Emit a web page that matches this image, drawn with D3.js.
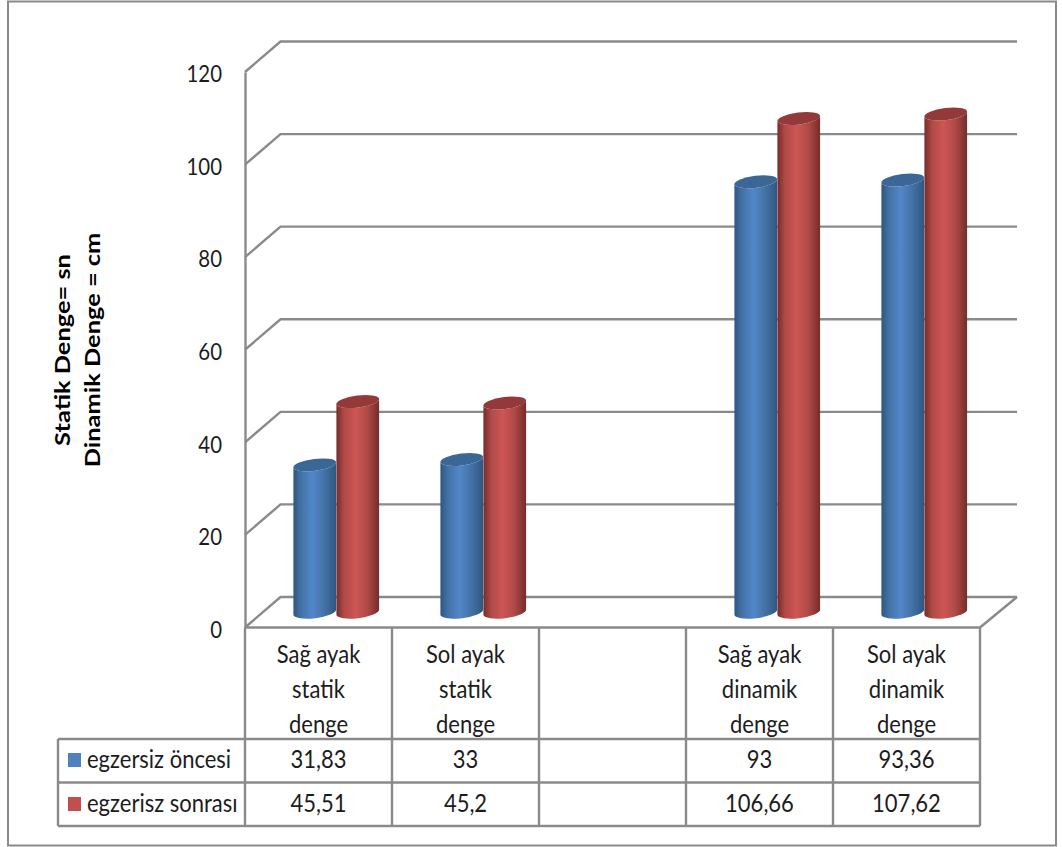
<!DOCTYPE html>
<html lang="tr">
<head>
<meta charset="utf-8">
<title>Statik ve dinamik denge</title>
<script src="https://cdn.jsdelivr.net/npm/d3@7"></script>
<style>
  html, body { margin: 0; padding: 0; background: #fff; }
  svg { display: block; }
  text { font-family: Lato, "Open Sans", sans-serif; fill: #1c1c1c; }
</style>
</head>
<body>
<div id="chart"></div>
<script>
// Balance scores before and after exercise
const categories = ["Sağ ayak statik", "Sol ayak statik", "", "Sağ ayak dinamik", "Sol ayak dinamik"];
const categoryLines = [["Sağ ayak", "statik", "denge"], ["Sol ayak", "statik", "denge"], [], ["Sağ ayak", "dinamik", "denge"], ["Sol ayak", "dinamik", "denge"]];
const seriesNames = ["egzersiz öncesi", "egzerisz sonrası"];
const before = [31.83, 33, null, 93, 93.36];
const after = [45.51, 45.2, null, 106.66, 107.62];
const yTicks = [0, 20, 40, 60, 80, 100, 120];
const yTitleLines = ["Statik Denge= sn", "Dinamik Denge = cm"];

const width = 1062, height = 847;
const grey = "#8a8a8a";
const plot = { left: 245, right: 980, top: 72, bottom: 627.5 };
const depth = { dx: 35.5, dy: -30.5 };
const table = { left: 58, catBottom: 739, row1: 782.5, row2: 826 };
const palette = [
  { swatch: "#4f81bd", cap: "#3b6797", edge: "#2f5682", side: "#4472a6", mid: "#5187c9" },
  { swatch: "#c0504d", cap: "#93393a", edge: "#762c2b", side: "#b04a47", mid: "#cd5653" }
];

const svg = d3.select("#chart").append("svg").attr("width", width).attr("height", height);

const x = d3.scaleBand().domain(d3.range(categories.length)).range([plot.left, plot.right]);
const y = d3.scaleLinear().domain([0, 120]).range([plot.bottom, plot.top]);
const barWidth = 43;
const xSeries = d3.scaleBand().domain([0, 1]).range([-barWidth, barWidth]);

// Cylinder shading runs across the width of each bar
const defs = svg.append("defs");
palette.forEach((c, i) => {
  const g = defs.append("linearGradient").attr("id", "cyl" + i).attr("x1", 0).attr("x2", 1).attr("y1", 0).attr("y2", 0);
  [[0, c.edge], [0.18, c.side], [0.45, c.mid], [0.72, c.side], [1, c.edge]].forEach(([o, col]) =>
    g.append("stop").attr("offset", o).attr("stop-color", col));
});

svg.append("rect").attr("x", 8).attr("y", 1.5).attr("width", 1048).attr("height", 844)
  .attr("fill", "#fff").attr("stroke", grey).attr("stroke-width", 2);

// Gridlines on the back wall and the side wall
const grid = svg.append("g").attr("fill", "none").attr("stroke", grey).attr("stroke-width", 2.4);
yTicks.forEach(t => {
  grid.append("path").attr("d", d3.line()([
    [plot.left, y(t)],
    [plot.left + depth.dx, y(t) + depth.dy],
    [plot.right + depth.dx + 1.5, y(t) + depth.dy]
  ]));
});
grid.append("path").attr("d", d3.line()([
  [plot.right, plot.bottom],
  [plot.right + depth.dx + 1.5, plot.bottom + depth.dy]
]));

// Value axis, with condensed tick labels
const yAxis = d3.axisLeft(y).tickValues(yTicks).tickSize(0).tickPadding(0);
const yG = svg.append("g").attr("transform", `translate(${plot.left},0)`).call(yAxis);
yG.select(".domain").attr("stroke", grey).attr("stroke-width", 2.4);
yG.selectAll("text")
  .attr("x", 0)
  .attr("transform", "translate(-23,2) scale(0.85,1)")
  .style("font-size", "24px");

// Rotated axis title, stretched along its reading direction
const titleX = [70, 100];
yTitleLines.forEach((line, i) => {
  svg.append("text")
    .attr("transform", `translate(${titleX[i]},350) rotate(-90) scale(1.21,1)`)
    .attr("text-anchor", "middle")
    .style("font-size", "21px").style("font-weight", 700).style("fill", "#000")
    .text(line);
});

// Cylinders sit halfway into the floor depth
const rx = 21.5, ry = 6, tilt = -7;
const cosT = Math.cos(tilt * Math.PI / 180), sinT = Math.sin(tilt * Math.PI / 180);
function bodyPath(cx, yTop, yBase) {
  const hw = rx * cosT, hh = rx * sinT;
  return `M${cx - hw},${yTop - hh} L${cx - hw},${yBase - hh}` +
    ` A${rx},${ry} ${tilt} 0 0 ${cx + hw},${yBase + hh}` +
    ` L${cx + hw},${yTop + hh} A${rx},${ry} ${tilt} 0 1 ${cx - hw},${yTop - hh} Z`;
}
const bars = svg.append("g");
[before, after].forEach((vals, s) => {
  vals.forEach((v, i) => {
    if (v === null) return;
    const cx = x(i) + x.bandwidth() / 2 + xSeries(s) + xSeries.bandwidth() / 2 + depth.dx / 2;
    const yTop = y(v) + depth.dy / 2, yBase = y(0) + depth.dy / 2;
    bars.append("path").attr("d", bodyPath(cx, yTop, yBase)).attr("fill", `url(#cyl${s})`);
    bars.append("ellipse")
      .attr("rx", rx).attr("ry", ry)
      .attr("transform", `translate(${cx},${yTop}) rotate(${tilt})`)
      .attr("fill", palette[s].cap);
  });
});

// Data table below the plot
const tbl = svg.append("g").attr("fill", "none").attr("stroke", grey).attr("stroke-width", 2.4);
x.domain().concat(categories.length).forEach(i => {
  const px = i < categories.length ? x(i) : plot.right;
  tbl.append("line").attr("x1", px).attr("x2", px).attr("y1", plot.bottom).attr("y2", table.row2);
});
tbl.append("line").attr("x1", plot.left).attr("x2", plot.right).attr("y1", plot.bottom).attr("y2", plot.bottom);
[table.catBottom, table.row1, table.row2].forEach(rowY => {
  tbl.append("line").attr("x1", table.left).attr("x2", plot.right).attr("y1", rowY).attr("y2", rowY);
});
tbl.append("line").attr("x1", table.left).attr("x2", table.left).attr("y1", table.catBottom).attr("y2", table.row2);

// Cell text is condensed horizontally
const cellFont = "25px", squeeze = 0.88;
const cellText = (px, py, anchor, label) => svg.append("text")
  .attr("transform", `translate(${px},${py}) scale(${squeeze},1)`)
  .attr("text-anchor", anchor).style("font-size", cellFont).text(label);

const lineBase = [663, 698, 733];
categoryLines.forEach((lines, i) => {
  lines.forEach((line, j) => cellText(x(i) + x.bandwidth() / 2, lineBase[j], "middle", line));
});

const rowBase = [768, 812];
const fmt = v => String(v).replace(".", ",");
[before, after].forEach((vals, s) => {
  vals.forEach((v, i) => {
    if (v === null) return;
    cellText(x(i) + x.bandwidth() / 2, rowBase[s], "middle", fmt(v));
  });
  svg.append("rect").attr("x", 68).attr("y", rowBase[s] - 15).attr("width", 13).attr("height", 14)
    .attr("fill", palette[s].swatch);
  cellText(87, rowBase[s], "start", seriesNames[s]);
});
</script>
</body>
</html>
